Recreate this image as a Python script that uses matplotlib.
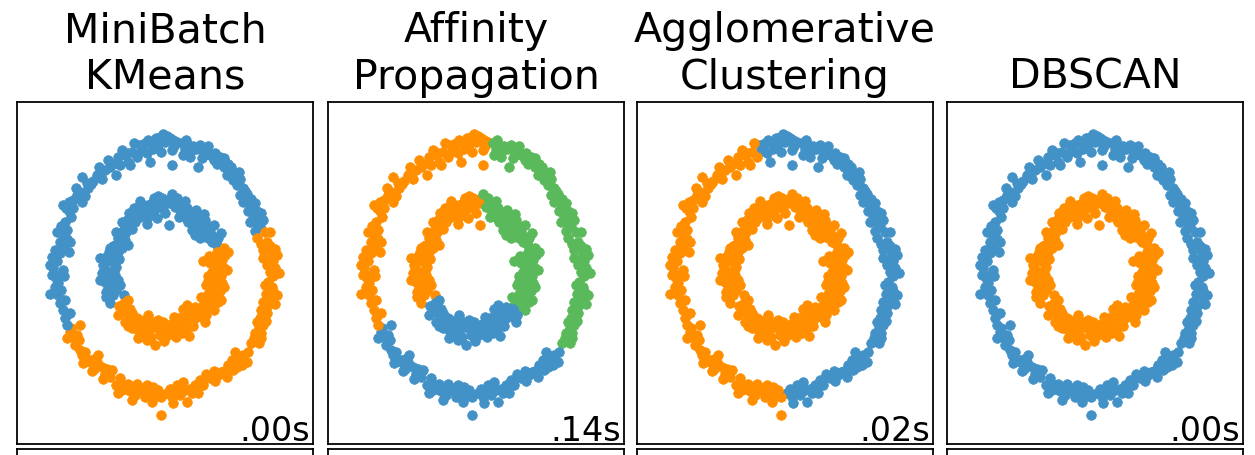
import numpy as np
import matplotlib
matplotlib.use("Agg")
import matplotlib.pyplot as plt

# noisy circles, split into arcs where the colours change
# outer ring arcs (clockwise from the top)
o1_x = [-0.42, -0.37, -0.31, -0.25, -0.34, -0.23, -0.20, -0.14, -0.08, -0.03, 0.03, 0.08, -0.11, 0.00, 0.14, 0.11, 0.12, 0.20, -0.06,
        -0.15, 0.05, -0.28, 0.16, -0.40]
o1_y = [1.87, 1.82, 1.75, 1.63, 1.90, 1.92, 1.82, 1.94, 1.99, 2.03, 2.01, 1.97, 1.87, 1.92, 1.94, 1.80, 1.58, 1.92, 1.77,
        1.98, 1.95, 1.95, 1.85, 1.78]

o2_x = [0.28, 0.34, 0.31, 0.39, 0.45, 0.42, 0.53, 0.59, 0.65, 0.56, 0.73, 0.76, 0.82, 0.87, 0.93, 0.99, 1.07, 1.10,
        1.04, 1.15, 1.27, 1.21, 1.32, 1.27, 1.38, 1.32, 1.44, 1.52, 1.41, 1.55, 1.49, 1.58, 1.44, 1.55, 1.66, 1.60,
        0.48, 0.70, 0.95, 1.20, 1.35, 1.48, 0.36, 0.62, 0.85, 1.00, 1.12, 1.25, 1.45, 1.62, 1.52]
o2_y = [1.90, 1.82, 1.73, 1.87, 1.80, 1.70, 1.82, 1.87, 1.77, 1.55, 1.85, 1.73, 1.65, 1.60, 1.70, 1.55, 1.60, 1.48,
        1.43, 1.36, 1.38, 1.29, 1.24, 1.14, 1.16, 1.04, 0.99, 1.02, 0.90, 0.90, 0.80, 0.82, 0.75, 0.73, 0.77, 0.68,
        1.86, 1.80, 1.62, 1.40, 1.20, 0.95, 1.95, 1.68, 1.75, 1.68, 1.55, 1.48, 1.08, 0.88, 0.62]

o3_x = [1.69, 1.77, 1.55, 1.63, 1.72, 1.66, 1.80, 1.89, 1.74, 1.83, 1.72, 1.86, 1.77, 1.83, 1.69, 1.74, 1.89, 1.80,
        1.83, 1.66, 1.74, 1.63, 1.72, 1.60, 1.66, 1.58, 1.63, 1.52, 1.55, 1.46, 1.58,
        1.78, 1.80, 1.80, 1.70, 1.62, 1.85, 1.66, 1.93, 1.70, 1.85, 1.55, 1.50]
o3_y = [0.60, 0.60, 0.51, 0.43, 0.46, 0.34, 0.31, 0.26, 0.21, 0.17, 0.12, 0.07, 0.02, -0.05, -0.18, -0.13, -0.32, -0.35,
        -0.27, -0.42, -0.47, -0.54, -0.59, -0.66, -0.76, -0.81, -0.88, -0.88, -0.98, -1.03, -1.03,
        0.40, 0.10, -0.20, -0.70, -0.95, 0.35, 0.22, 0.00, -0.30, -0.45, -0.72, -0.95]

o4_x = [1.41, 1.32, 1.38, 1.27, 1.18, 1.13, 1.21, 1.07, 0.99, 1.04, 0.90, 0.82, 0.76, 0.70, 0.65, 0.59, 0.51, 0.42,
        0.31, 0.34, 0.25, 0.37, 0.20, 0.17, 0.08, 0.11, 0.03,
        1.24, 0.95, 0.62, 0.45, 0.22, 1.30, 1.15, 0.85, 0.55, 0.28, 0.14]
o4_y = [-1.15, -1.20, -1.30, -1.25, -1.15, -1.27, -1.37, -1.35, -1.44, -1.52, -1.49, -1.44, -1.54, -1.47, -1.64, -1.56,
        -1.64, -1.69, -1.59, -1.71, -1.78, -1.88, -1.64, -1.73, -1.69, -1.81, -1.76,
        -1.22, -1.45, -1.60, -1.75, -1.70, -1.35, -1.42, -1.58, -1.76, -1.62, -1.90]

o5_x = [-0.06, -0.06, -0.11, -0.20, -0.25, -0.31, -0.37, -0.34, -0.45, -0.51, -0.59, -0.56, -0.65, -0.70, -0.76, -0.73,
        -0.82, -0.93, -0.90, -1.01, -1.07, -1.15, -1.13, -1.24, -1.27, -1.32, -1.38, -1.35, -1.44, -1.52, -1.46, -1.55,
        -1.60, -1.44, -1.58,
        -0.15, -0.40, -0.62, -0.98, -1.20, -1.48, -0.22, -0.48, -0.80, -1.05, -1.20, -1.40, -1.65]
o5_y = [-2.08, -1.81, -1.71, -1.66, -1.76, -1.64, -1.73, -1.81, -1.69, -1.78, -1.73, -1.86, -1.69, -1.64, -1.54, -1.71,
        -1.64, -1.52, -1.42, -1.47, -1.37, -1.30, -1.20, -1.44, -1.30, -1.25, -1.32, -1.15, -1.13, -1.05, -0.98, -0.93,
        -0.86, -0.76, -0.81,
        -1.80, -1.68, -1.62, -1.40, -1.25, -0.90, -1.88, -1.62, -1.75, -1.55, -1.40, -1.20, -0.95]

o6_x = [-1.66, -1.69, -1.60, -1.72, -1.77, -1.69, -1.80, -1.75, -1.86, -1.83, -1.91, -1.77, -1.89, -1.72, -1.83, -1.91,
        -1.77, -1.86, -1.72, -1.60, -1.77, -1.72, -1.66, -1.75, -1.69, -1.58, -1.63, -1.72, -1.63, -1.55, -1.49, -1.41,
        -1.35, -1.44, -1.30, -1.41, -1.32, -1.21, -1.15, -1.07, -1.01, -0.96, -0.93, -0.82, -0.76, -0.68, -0.73, -0.62,
        -0.56, -0.59, -0.48,
        -1.80, -1.82, -1.66, -1.68, -1.25, -0.88, -0.65,
        -1.95, -1.70, -1.95, -1.62, -1.82, -1.55, -1.50, -1.12, -0.80, -0.52]
o6_y = [-0.76, -0.66, -0.59, -0.54, -0.44, -0.39, -0.32, -0.25, -0.20, -0.10, -0.03, -0.03, 0.07, 0.04, 0.17, 0.24,
        0.29, 0.34, 0.38, 0.46, 0.46, 0.56, 0.63, 0.68, 0.75, 0.82, 0.90, 0.99, 1.04, 1.07, 1.14, 1.04,
        1.12, 1.19, 1.24, 1.41, 1.31, 1.34, 1.43, 1.38, 1.51, 1.65, 1.55, 1.43, 1.58, 1.73, 1.80, 1.63,
        1.77, 1.58, 1.70,
        -0.15, 0.30, 0.50, 0.95, 1.30, 1.60, 1.75,
        -0.30, -0.05, 0.12, 0.30, 0.60, 0.95, 1.25, 1.55, 1.70, 1.90]

# inner ring arcs
i1_x = [-0.93, -0.87, -0.96, -0.82, -1.01, -0.90, -1.07, -0.96, -0.84, -1.04, -0.93, -0.82, -0.99, -0.87, -0.93, -0.79,
        -0.84, -0.73, -0.62, -0.79, -0.70, -0.82, -0.70, -0.59, -0.65, -0.56, -0.51, -0.48, -0.53, -0.39, -0.37, -0.31,
        -0.28, -0.23, -0.20, -0.14, -0.08, -0.11, -0.03, 0.03, 0.06, 0.08, -0.70, -0.76, -0.99, -0.31, -0.42, -0.14,
        -0.88, -1.02, -0.78, -0.95, -0.76, -0.66, -0.60, -0.45, -0.22, -0.05, -0.92, -0.86,
        -1.10, -1.00, -0.80, -1.10, -0.88, -0.68, -0.55, -0.72, -0.42, -0.18, 0.00, -0.30]
i1_y = [-0.44, -0.32, -0.22, -0.25, -0.13, -0.10, 0.00, 0.02, -0.03, 0.12, 0.17, 0.09, 0.24, 0.26, 0.36, 0.31,
        0.41, 0.36, 0.41, 0.51, 0.56, 0.60, 0.65, 0.70, 0.77, 0.82, 0.75, 0.90, 0.95, 0.92, 0.99, 0.90,
        0.99, 0.92, 0.85, 0.95, 1.04, 1.12, 0.97, 1.07, 0.70, 1.02, -0.32, -0.18, -0.35, 0.80, 0.82, 0.80,
        -0.18, 0.05, 0.20, 0.30, 0.45, 0.60, 0.88, 0.97, 1.02, 1.09, -0.05, 0.05,
        -0.10, -0.28, -0.10, 0.22, 0.40, 0.48, 0.65, 0.75, 1.05, 1.10, 0.88, 0.72]

i2_x = [0.20, 0.17, 0.25, 0.31, 0.23, 0.37, 0.42, 0.39, 0.48, 0.53, 0.56, 0.62, 0.68, 0.73, 0.65, 0.76, 0.82, 0.70,
        0.79, 0.90, 0.87, 0.59, 0.51, 0.45,
        0.28, 0.35, 0.47, 0.60, 0.70, 0.84, 0.76, 0.12, 0.33, 0.52, 0.66, 0.82, 0.94, 0.62]
i2_y = [1.09, 0.97, 0.92, 0.85, 0.82, 0.95, 0.87, 0.75, 0.70, 0.80, 0.65, 0.73, 0.78, 0.68, 0.60, 0.60, 0.53, 0.53,
        0.46, 0.51, 0.41, 0.51, 0.56, 0.63,
        1.00, 0.80, 0.78, 0.62, 0.66, 0.45, 0.50, 1.15, 1.05, 0.92, 0.86, 0.70, 0.58, 0.55]

i3_x = [0.99, 0.93, 1.01, 0.84, 0.96, 0.65, 0.76, 0.87, 0.99, 0.79, 0.90, 0.73, 0.84, 0.96, 0.70, 0.82, 0.93, 0.73,
        0.84, 0.68, 0.79, 0.90, 0.73, 0.65, 0.82,
        0.92, 0.88, 0.80, 0.95, 0.77, 0.88, 0.70, 0.92, 1.06, 1.04, 0.75, 1.00, 0.72, 0.95, 0.60]
i3_y = [0.36, 0.29, 0.26, 0.21, 0.19, 0.17, 0.14, 0.09, 0.07, 0.02, -0.03, -0.05, -0.13, -0.15, -0.18, -0.22, -0.27, -0.30,
        -0.35, -0.39, -0.44, -0.42, -0.52, -0.47, -0.54,
        0.12, 0.30, -0.08, -0.05, -0.26, -0.30, -0.42, 0.00, 0.30, 0.05, 0.25, -0.20, -0.12, -0.40, -0.35]

i4_x = [0.70, 0.62, 0.68, 0.53, 0.51, 0.42, 0.31, 0.34, 0.45, 0.37, 0.25, 0.28, 0.17, 0.20, 0.11, 0.06, -0.03, 0.00,
        -0.08, -0.14, -0.17, -0.23, -0.25, -0.34, -0.37, -0.45, -0.51, -0.56, -0.59, -0.68, -0.65, -0.73, -0.59, -0.70,
        -0.62, 0.62, 0.37, -0.11, -0.42,
        0.56, 0.45, 0.24, 0.10, -0.05, -0.20, -0.30, -0.48, -0.62, 0.30, 0.05,
        0.48, 0.40, 0.18, 0.15, -0.02, -0.30, -0.45, -0.55, -0.80, -0.78, 0.50, -0.28]
i4_y = [-0.61, -0.64, -0.71, -0.54, -0.66, -0.57, -0.52, -0.64, -0.74, -0.81, -0.76, -0.88, -0.81, -0.71, -0.88, -0.78,
        -0.71, -0.83, -0.91, -0.81, -1.05, -0.93, -0.81, -0.88, -0.76, -0.83, -0.74, -0.81, -0.66, -0.71, -0.59, -0.57,
        -0.52, -0.44, -0.39, -0.52, -0.47, -0.69, -0.69,
        -0.60, -0.63, -0.66, -0.75, -0.92, -0.72, -0.70, -0.66, -0.78, -0.74, -0.90,
        -0.78, -0.92, -0.94, -0.65, -1.00, -0.98, -0.95, -0.58, -0.62, -0.48, -0.50, -0.62]

arcs_x = [o1_x, o2_x, o3_x, o4_x, o5_x, o6_x, i1_x, i2_x, i3_x, i4_x]
arcs_y = [o1_y, o2_y, o3_y, o4_y, o5_y, o6_y, i1_y, i2_y, i3_y, i4_y]

titles = ["MiniBatch\nKMeans", "Affinity\nPropagation", "Agglomerative\nClustering", "DBSCAN"]
times = [".00s", ".14s", ".02s", ".00s"]

# cluster id of every arc in each panel (0 blue, 1 orange, 2 green)
kmeans_labels = [0, 0, 1, 1, 1, 0, 0, 0, 1, 1]
affinity_labels = [1, 2, 2, 0, 0, 1, 1, 2, 2, 0]
agglo_labels = [0, 0, 0, 0, 1, 1, 1, 1, 1, 1]
dbscan_labels = [0, 0, 0, 0, 0, 0, 1, 1, 1, 1]
all_labels = [kmeans_labels, affinity_labels, agglo_labels, dbscan_labels]

colors = ["#4291c7", "#ff8f00", "#5ab95a"]

fig = plt.figure(figsize=(1255 / 160, 455 / 160), dpi=160)

lefts = [17, 328, 637, 947]
W, H = 1255.0, 455.0
for k in range(4):
    ax = fig.add_axes([lefts[k] / W, 1 - 444 / H, 296 / W, 342 / H])
    labels = all_labels[k]
    for j in range(len(arcs_x)):
        ax.scatter(arcs_x[j], arcs_y[j], s=19, linewidths=0.3, color=colors[labels[j]])
    ax.set_xlim(-2.5, 2.5)
    ax.set_ylim(-2.5, 2.5)
    ax.set_xticks(())
    ax.set_yticks(())
    ax.set_title(titles[k], size=18.5)
    ax.text(.99, .01, times[k], transform=ax.transAxes, size=15, horizontalalignment="right")

    # top of the next row of panels
    nxt = fig.add_axes([lefts[k] / W, 1 - 449 / H - 342 / H, 296 / W, 342 / H])
    nxt.set_xticks(())
    nxt.set_yticks(())

fig.savefig("out.png", dpi=160)
